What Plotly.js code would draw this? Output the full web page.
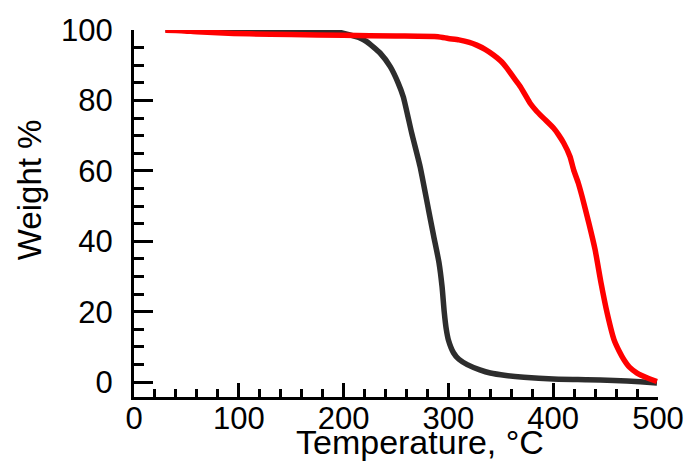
<!DOCTYPE html>
<html>
<head>
<meta charset="utf-8">
<script src="https://cdn.plot.ly/plotly-3.0.1.min.js"></script>
<style>html,body{margin:0;padding:0;background:#fff;}#chart{width:692px;height:463px;}</style>
</head>
<body>
<div id="chart"></div>
<script>
// Black curve (Temperature °C, Weight %)
const blackT = [30, 60, 100, 150, 180, 195, 206, 215, 222, 235, 244.5, 252, 257, 265, 273, 281, 286, 291, 294, 296, 298, 300, 305, 310, 318, 330, 340, 355, 372, 400, 432, 458, 483, 499];
const blackW = [100.1, 100.1, 100.1, 100.0, 99.8, 99.4, 98.6, 97.8, 96.7, 93.4, 89.6, 85.0, 81.0, 70.7, 61.2, 49.0, 41.4, 34.0, 27.0, 20.0, 15.0, 12.0, 8.3, 6.5, 5.0, 3.5, 2.6, 1.9, 1.4, 0.9, 0.7, 0.5, 0.1, -0.2];
// Red curve
const redT = [30, 45, 60, 80, 110, 150, 200, 250, 290, 300, 310, 320, 327, 335, 343, 350, 356, 362, 368.7, 374, 378, 384, 391, 400.5, 405, 410, 416, 419.5, 424, 427.6, 434, 440, 445.7, 451.5, 458, 463, 467.5, 473, 480, 490, 499];
const redW = [99.9, 99.8, 99.5, 99.2, 98.9, 98.7, 98.5, 98.3, 98.1, 97.6, 97.2, 96.5, 95.7, 94.5, 92.9, 91.2, 89.1, 86.6, 83.9, 81.2, 79.2, 77.0, 74.9, 72.1, 70.3, 67.9, 64.1, 60.3, 56.5, 52.7, 45.2, 37.6, 28.1, 19.6, 12.1, 8.8, 6.4, 4.2, 2.6, 1.2, 0.2];
const xTicks = [0, 100, 200, 300, 400, 500];
const yTicks = [0, 20, 40, 60, 80, 100];
const xTitle = "Temperature, °C";
const yTitle = "Weight %";

const font = "Liberation Sans, Arial, sans-serif";
const traces = [
  {x: blackT, y: blackW, type: "scatter", mode: "lines", line: {color: "#2d2d2d", width: 5.5, shape: "spline", smoothing: 0.5}, cliponaxis: false, hoverinfo: "skip"},
  {x: redT, y: redW, type: "scatter", mode: "lines", line: {color: "#ff0000", width: 5.5, shape: "spline", smoothing: 0.5}, cliponaxis: false, hoverinfo: "skip"}
];
const layout = {
  width: 692, height: 463,
  margin: {l: 134, r: 34, t: 30, b: 66},
  paper_bgcolor: "#fff", plot_bgcolor: "#fff",
  showlegend: false,
  font: {family: font, color: "#000", size: 31},
  xaxis: {
    range: [0, 500], tickvals: xTicks, ticktext: xTicks.map(String),
    ticks: "inside", ticklen: 14, tickwidth: 3, tickcolor: "#000",
    minor: {dtick: 20, ticks: "inside", ticklen: 8, tickwidth: 3, tickcolor: "#000"},
    showline: true, linewidth: 3, linecolor: "#000", showgrid: false, zeroline: false,
    tickfont: {family: font, size: 31, color: "#000"}, ticklabelstandoff: -8
  },
  yaxis: {
    range: [-4.2, 100], tickvals: yTicks, ticktext: yTicks.map(String),
    ticks: "inside", ticklen: 19, tickwidth: 3, tickcolor: "#000",
    minor: {dtick: 5, tick0: 0, ticks: "inside", ticklen: 10, tickwidth: 3, tickcolor: "#000"},
    showline: true, linewidth: 3, linecolor: "#000", showgrid: false, zeroline: false,
    tickfont: {family: font, size: 31, color: "#000"}, ticklabelstandoff: 12
  },
  annotations: [
    {text: xTitle, xref: "paper", yref: "paper", x: 0.546, y: -0.18, xanchor: "center", yanchor: "bottom", showarrow: false, font: {family: font, size: 34, color: "#000"}},
    {text: yTitle, xref: "paper", yref: "paper", x: -0.2, y: 0.564, xanchor: "center", yanchor: "middle", textangle: -90, showarrow: false, font: {family: font, size: 33, color: "#000"}}
  ]
};
Plotly.newPlot("chart", traces, layout, {staticPlot: true, displayModeBar: false});
</script>
</body>
</html>
